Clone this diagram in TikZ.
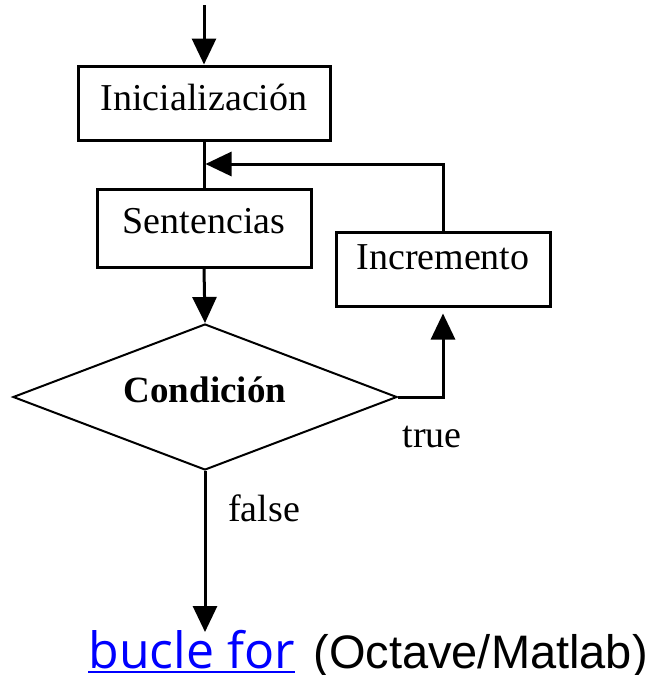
\documentclass[tikz,border=0pt]{standalone}
\usepackage{fontspec}
\setmainfont{Liberation Serif}
\newfontfamily\lsans{Liberation Sans}
\newfontfamily\osans{Open Sans}
\usetikzlibrary{arrows.meta,shapes.geometric}
\definecolor{linkblue}{RGB}{0,0,255}
\newcommand\myul[1]{\setbox0\hbox{#1}\rlap{\rule[-2.3pt]{\wd0}{1pt}}\box0}
\begin{document}
\begin{tikzpicture}[x=0.5pt,y=-0.5pt,
  box/.style={draw,line width=1.5pt,inner sep=0pt,font=\fontsize{19}{22}\selectfont,text depth=0pt},
  conn/.style={line width=1.5pt},
  arr/.style={conn,-{Triangle[length=13pt,width=12pt]}},
  lbl/.style={inner sep=0pt,anchor=base,font=\fontsize{19}{22}\selectfont}]
\useasboundingbox (0,0) rectangle (656,675);
\node[box,minimum width=126pt,minimum height=37pt,text height=7pt] (ini) at (204,103) {Inicialización};
\node[box,minimum width=107pt,minimum height=39pt,text height=5pt] (sent) at (204,228) {Sentencias};
\node[box,minimum width=107pt,minimum height=37pt,text height=0pt] (incr) at (443,269) {Incremento};
\node[diamond,draw,line width=1pt,aspect=2.63,inner sep=0pt,minimum width=192pt,minimum height=73pt,text height=5pt,text depth=0pt,font=\bfseries\fontsize{18.5}{22}\selectfont] (cond) at (205,397) {Condición};
\coordinate (top) at (204,5);
\draw[arr] (top) -- (ini.north);
\draw[conn] (ini.south) -- (sent.north);
\coordinate (join) at (204,164);
\draw[arr,shorten >=0.75pt] (incr.north) |- (join);
\draw[arr] (sent.south) -- (cond.north);
\draw[arr,shorten >=3pt] (cond.east) -| (incr.south);
\coordinate (exit) at (205,632);
\draw[arr] (cond.south) -- (exit);
\node[lbl] (t) at (432,447) {true};
\node[lbl] (f) at (264,521) {false};
\node[inner sep=0pt,anchor=base west,text=linkblue,font=\osans\fontsize{25}{28}\selectfont] (link) at (88,668) {\myul{bucle for}};
\node[inner sep=0pt,anchor=base west,font=\lsans\fontsize{23.5}{28}\selectfont] (oct) at (313,668) {(Octave/Matlab)};
\end{tikzpicture}
\end{document}
